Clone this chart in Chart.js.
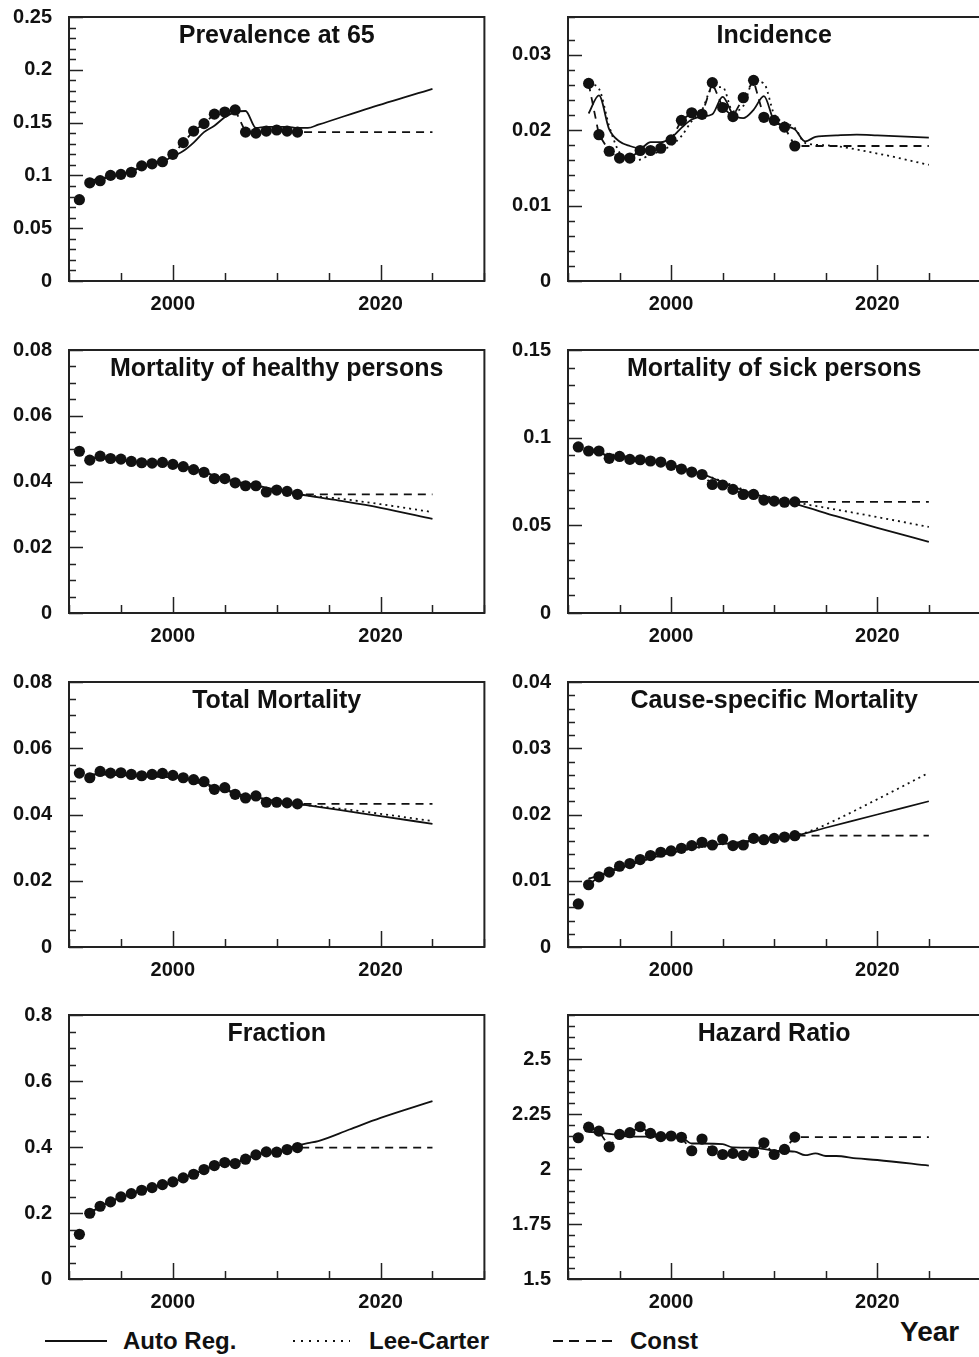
<!DOCTYPE html>
<html>
<head>
<meta charset="utf-8">
<title>Projections</title>
<script src="https://cdn.jsdelivr.net/npm/chart.js@4.4.1/dist/chart.umd.min.js"></script>
<style>
  body { margin: 0; background: #fff; width: 979px; height: 1357px; overflow: hidden; position: relative;
         font-family: "Liberation Sans", Arial, sans-serif; font-weight: bold; color: #111; }
  canvas { position: absolute; }
  .key { position: absolute; top: 1340px; height: 2px; }
  .lbl { position: absolute; top: 1327px; font-size: 24px; line-height: 28px; white-space: nowrap; }
</style>
</head>
<body>

<div class="key" style="left:45px;width:62px;background:#111"></div>
<div class="lbl" style="left:123px">Auto Reg.</div>
<div class="key" style="left:293px;width:57px;background:repeating-linear-gradient(90deg,#111 0 2px,transparent 2px 8px)"></div>
<div class="lbl" style="left:369px">Lee-Carter</div>
<div class="key" style="left:553px;width:59px;background:repeating-linear-gradient(90deg,#111 0 10px,transparent 10px 16.5px)"></div>
<div class="lbl" style="left:630px">Const</div>
<div class="lbl" style="left:900px;top:1316px;font-size:28px;line-height:32px">Year</div>

<script>
const FONT = '"Liberation Sans", Arial, sans-serif';
const HORIZON = 2025;

// observed years
const obsYears = [1991,1992,1993,1994,1995,1996,1997,1998,1999,2000,2001,2002,2003,2004,2005,2006,2007,2008,2009,2010,2011,2012];
const incYears = [1992,1993,1994,1995,1996,1997,1998,1999,2000,2001,2002,2003,2004,2005,2006,2007,2008,2009,2010,2011,2012];

// Prevalence at 65
const prevObs = [0.077,0.093,0.095,0.100,0.101,0.103,0.109,0.111,0.113,0.120,0.131,0.142,0.149,0.158,0.160,0.162,0.141,0.140,0.142,0.143,0.142,0.141];
const prevArYears = [1992,1993,1994,1995,1996,1997,1998,1999,2000,2001,2002,2003,2004,2005,2006,2007,2008,2009,2010,2011,2012,2013,2014,2019,2025];
const prevAr = [0.095,0.097,0.099,0.101,0.104,0.108,0.111,0.113,0.118,0.123,0.131,0.141,0.147,0.155,0.160,0.161,0.145,0.146,0.146,0.146,0.145,0.145,0.148,0.164,0.182];

// Incidence
const incObs = [0.0262,0.0194,0.0172,0.0163,0.0163,0.0173,0.0173,0.0176,0.0187,0.0213,0.0223,0.0221,0.0263,0.0230,0.0218,0.0243,0.0266,0.0217,0.0213,0.0204,0.0179];
const incArYears = [1992,1993,1994,1995,1996,1997,1998,1999,2000,2001,2002,2003,2004,2005,2006,2007,2008,2009,2010,2011,2012,2013,2014,2016,2018,2020,2025];
const incAr = [0.0222,0.0246,0.0201,0.0185,0.0179,0.0176,0.0184,0.0184,0.0190,0.0203,0.0214,0.0218,0.0221,0.0244,0.0221,0.0216,0.0227,0.0245,0.0212,0.0206,0.0201,0.0185,0.0191,0.0193,0.0194,0.0193,0.0190];
const incLcYears = [1992,1993,1994,1995,1996,1997,1998,1999,2000,2001,2002,2003,2004,2005,2006,2007,2008,2009,2010,2011,2012,2013,2015,2020,2025];
const incLc = [0.0262,0.0255,0.0205,0.0170,0.0160,0.0161,0.0168,0.0172,0.0180,0.0192,0.0212,0.0227,0.0256,0.0257,0.0225,0.0232,0.0265,0.0262,0.0221,0.0210,0.0203,0.0183,0.0180,0.0169,0.0154];

// Mortality of healthy persons
const healthyObs = [0.0492,0.0465,0.0477,0.0470,0.0468,0.0461,0.0457,0.0456,0.0458,0.0452,0.0445,0.0436,0.0428,0.0409,0.0409,0.0396,0.0387,0.0387,0.0368,0.0374,0.0370,0.0361];
const healthyArYears = [1992,1994,1996,1998,2000,2002,2004,2006,2008,2010,2012,2016,2020,2025];
const healthyAr = [0.0472,0.0468,0.0462,0.0456,0.0451,0.0440,0.0418,0.0400,0.0388,0.0374,0.0362,0.0342,0.0320,0.0286];
const healthyLcYears = [1992,1996,2000,2004,2008,2012,2016,2020,2025];
const healthyLc = [0.0472,0.0462,0.0451,0.0418,0.0388,0.0362,0.0348,0.0331,0.0307];

// Mortality of sick persons
const sickObs = [0.0947,0.0924,0.0924,0.0882,0.0893,0.0876,0.0874,0.0867,0.0861,0.0842,0.0821,0.0804,0.0790,0.0733,0.0730,0.0705,0.0676,0.0676,0.0644,0.0638,0.0632,0.0634];
const sickArYears = [1992,1994,1996,1998,2000,2002,2004,2006,2008,2010,2012,2016,2020,2025];
const sickAr = [0.0925,0.0900,0.0880,0.0866,0.0845,0.0810,0.0770,0.0720,0.0680,0.0648,0.0622,0.0552,0.0486,0.0406];
const sickLcYears = [1992,2000,2004,2008,2012,2016,2020,2025];
const sickLc = [0.0925,0.0845,0.0772,0.0685,0.0632,0.0590,0.0547,0.0491];

// Total Mortality
const totalObs = [0.0525,0.0511,0.0530,0.0525,0.0526,0.0521,0.0517,0.0521,0.0524,0.0518,0.0511,0.0505,0.0499,0.0476,0.0481,0.0461,0.0450,0.0456,0.0437,0.0437,0.0435,0.0432];
const totalArYears = [1992,1994,1996,1998,2000,2002,2004,2006,2008,2010,2012,2016,2020,2025];
const totalAr = [0.0522,0.0520,0.0517,0.0514,0.0512,0.0503,0.0484,0.0464,0.0452,0.0440,0.0432,0.0414,0.0395,0.0372];
const totalLcYears = [1992,2000,2006,2012,2016,2020,2025];
const totalLc = [0.0522,0.0512,0.0464,0.0432,0.0418,0.0402,0.0380];

// Cause-specific Mortality
const causeObs = [0.0065,0.0094,0.0106,0.0113,0.0122,0.0126,0.0132,0.0138,0.0143,0.0145,0.0149,0.0153,0.0158,0.0154,0.0163,0.0153,0.0154,0.0164,0.0162,0.0164,0.0166,0.0168];
const causeArYears = [1992,1994,1996,1998,2000,2002,2004,2006,2008,2010,2012,2015,2020,2025];
const causeAr = [0.0103,0.0113,0.0124,0.0134,0.0142,0.0149,0.0154,0.0157,0.0161,0.0164,0.0168,0.0180,0.0200,0.0220];
const causeLcYears = [1992,2000,2006,2012,2014,2016,2020,2025];
const causeLc = [0.0103,0.0142,0.0157,0.0168,0.0178,0.0192,0.0223,0.0263];

// Fraction
const fracObs = [0.1355,0.1992,0.2204,0.2336,0.2487,0.2588,0.2690,0.2770,0.2861,0.2942,0.3064,0.3175,0.3316,0.3438,0.3529,0.3498,0.3630,0.3761,0.3852,0.3842,0.3923,0.3984];
const fracArYears = [1992,1994,1996,1998,2000,2002,2004,2006,2008,2010,2012,2013,2014,2017,2020,2025];
const fracAr = [0.201,0.235,0.258,0.277,0.294,0.318,0.343,0.352,0.376,0.386,0.405,0.412,0.418,0.453,0.488,0.539];

// Hazard Ratio
const hazObs = [2.142,2.190,2.172,2.101,2.157,2.165,2.192,2.162,2.147,2.150,2.144,2.083,2.136,2.083,2.066,2.071,2.062,2.074,2.119,2.066,2.089,2.145];
const hazArYears = [1992,1993,1995,1996,2000,2001,2002,2003,2005,2006,2008,2010,2012,2013,2014,2015,2016,2018,2020,2025];
const hazAr = [2.169,2.165,2.154,2.147,2.147,2.144,2.116,2.116,2.113,2.098,2.097,2.083,2.079,2.063,2.071,2.059,2.059,2.048,2.041,2.015];

// panel placement: column left edge / canvas width / y-axis width, row top of plot area / plot height
const cols = [{left: 0, width: 490, yw: 69, pr: 5}, {left: 490, width: 496, yw: 78, pr: 0}];
const rows = [{top: 17, h: 264}, {top: 350, h: 263}, {top: 682, h: 265}, {top: 1015, h: 264}];

function pts(years, vals) {
    return years.map(function (y, i) { return {x: y, y: vals[i]}; });
}

// Const: observed values from 1992 on, then held at the last value
function constPts(years, vals) {
    var p = pts(years, vals).filter(function (d) { return d.x >= 1992; });
    p.push({x: HORIZON, y: vals[vals.length - 1]});
    return p;
}

// frame, inward tick marks and the title inside the plot
const panelDecor = {
    id: 'panelDecor',
    afterDraw: function (chart, args, opts) {
        var ctx = chart.ctx, a = chart.chartArea;
        var xs = chart.scales.x, ys = chart.scales.y;
        ctx.save();
        ctx.strokeStyle = '#222';
        ctx.lineWidth = 1.5;
        ctx.beginPath();
        ys.ticks.forEach(function (t) {
            var py = Math.round(ys.getPixelForValue(t.value)) + 0.5;
            ctx.moveTo(a.left, py);
            ctx.lineTo(a.left + (t.label ? 14 : 7), py);
        });
        xs.ticks.forEach(function (t) {
            var px = Math.round(xs.getPixelForValue(t.value)) + 0.5;
            ctx.moveTo(px, a.bottom);
            ctx.lineTo(px, a.bottom - (t.label ? 16 : 8));
        });
        ctx.stroke();
        ctx.lineWidth = 2;
        ctx.strokeRect(a.left, a.top, a.right - a.left, a.bottom - a.top);
        ctx.fillStyle = '#111';
        ctx.font = 'bold 25px ' + FONT;
        ctx.textAlign = 'center';
        ctx.textBaseline = 'alphabetic';
        ctx.fillText(opts.title, (a.left + a.right) / 2, a.top + 26);
        ctx.restore();
    }
};

// hidden tick marks only to space the labels away from the axis
function spacer(len) {
    return {display: true, drawOnChartArea: false, drawTicks: true, tickLength: len,
            color: 'rgba(0,0,0,0)', tickColor: 'rgba(0,0,0,0)'};
}

function plotPanel(setting) {
    var col = cols[setting.col], row = rows[setting.row];
    var canvas = document.createElement('canvas');
    canvas.width = col.width;
    canvas.height = row.h + 14 + 40;
    canvas.style.left = col.left + 'px';
    canvas.style.top = (row.top - 14) + 'px';
    document.body.appendChild(canvas);

    var datasets = [
        {label: 'Observed', data: pts(setting.years, setting.obs), showLine: false,
         pointRadius: 5.6, pointBackgroundColor: '#111', pointBorderWidth: 0}
    ];
    datasets.push({label: 'Auto Reg.', data: pts(setting.arYears, setting.ar), borderColor: '#111',
        borderWidth: 1.8, pointRadius: 0, cubicInterpolationMode: 'monotone'});
    if (setting.lc) {
        datasets.push({label: 'Lee-Carter', data: pts(setting.lcYears, setting.lc), borderColor: '#111',
            borderWidth: 1.8, borderDash: [2, 4], pointRadius: 0, cubicInterpolationMode: 'monotone'});
    }
    datasets.push({label: 'Const', data: constPts(setting.years, setting.obs), borderColor: '#111',
        borderWidth: 1.8, borderDash: [8, 6], pointRadius: 0});

    var major = setting.major;
    return new Chart(canvas, {
        type: 'line',
        data: {datasets: datasets},
        plugins: [panelDecor],
        options: {
            responsive: false,
            animation: false,
            events: [],
            layout: {padding: {top: 14, right: col.pr, left: 0, bottom: 0}},
            plugins: {legend: {display: false}, tooltip: {enabled: false}, panelDecor: {title: setting.title}},
            scales: {
                x: {
                    type: 'linear', min: 1990, max: 2030,
                    afterFit: function (s) { s.height = 40; },
                    grid: spacer(9), border: {display: false},
                    ticks: {stepSize: 5, autoSkip: false, maxRotation: 0, padding: 2, color: '#111',
                        font: {family: FONT, size: 20, weight: 'bold'},
                        callback: function (v) { return v % 20 === 0 ? String(v) : ''; }}
                },
                y: {
                    type: 'linear', min: setting.min, max: setting.max,
                    afterFit: function (s) { s.width = col.yw; },
                    grid: spacer(15), border: {display: false},
                    ticks: {stepSize: setting.minor, autoSkip: false, padding: 2, color: '#111',
                        font: {family: FONT, size: 20, weight: 'bold'},
                        callback: function (v) {
                            var k = (v - setting.min) / major;
                            return Math.abs(k - Math.round(k)) < 1e-6 ? String(Number(v.toFixed(4))) : '';
                        }}
                }
            }
        }
    });
}

plotPanel({col: 0, row: 0, title: 'Prevalence at 65', min: 0, max: 0.25, major: 0.05, minor: 0.01,
    years: obsYears, obs: prevObs, arYears: prevArYears, ar: prevAr});
plotPanel({col: 1, row: 0, title: 'Incidence', min: 0, max: 0.035, major: 0.01, minor: 0.002,
    years: incYears, obs: incObs, arYears: incArYears, ar: incAr, lcYears: incLcYears, lc: incLc});
plotPanel({col: 0, row: 1, title: 'Mortality of healthy persons', min: 0, max: 0.08, major: 0.02, minor: 0.005,
    years: obsYears, obs: healthyObs, arYears: healthyArYears, ar: healthyAr, lcYears: healthyLcYears, lc: healthyLc});
plotPanel({col: 1, row: 1, title: 'Mortality of sick persons', min: 0, max: 0.15, major: 0.05, minor: 0.01,
    years: obsYears, obs: sickObs, arYears: sickArYears, ar: sickAr, lcYears: sickLcYears, lc: sickLc});
plotPanel({col: 0, row: 2, title: 'Total Mortality', min: 0, max: 0.08, major: 0.02, minor: 0.005,
    years: obsYears, obs: totalObs, arYears: totalArYears, ar: totalAr, lcYears: totalLcYears, lc: totalLc});
plotPanel({col: 1, row: 2, title: 'Cause-specific Mortality', min: 0, max: 0.04, major: 0.01, minor: 0.002,
    years: obsYears, obs: causeObs, arYears: causeArYears, ar: causeAr, lcYears: causeLcYears, lc: causeLc});
plotPanel({col: 0, row: 3, title: 'Fraction', min: 0, max: 0.8, major: 0.2, minor: 0.05,
    years: obsYears, obs: fracObs, arYears: fracArYears, ar: fracAr});
plotPanel({col: 1, row: 3, title: 'Hazard Ratio', min: 1.5, max: 2.7, major: 0.25, minor: 0.05,
    years: obsYears, obs: hazObs, arYears: hazArYears, ar: hazAr});
</script>
</body>
</html>
